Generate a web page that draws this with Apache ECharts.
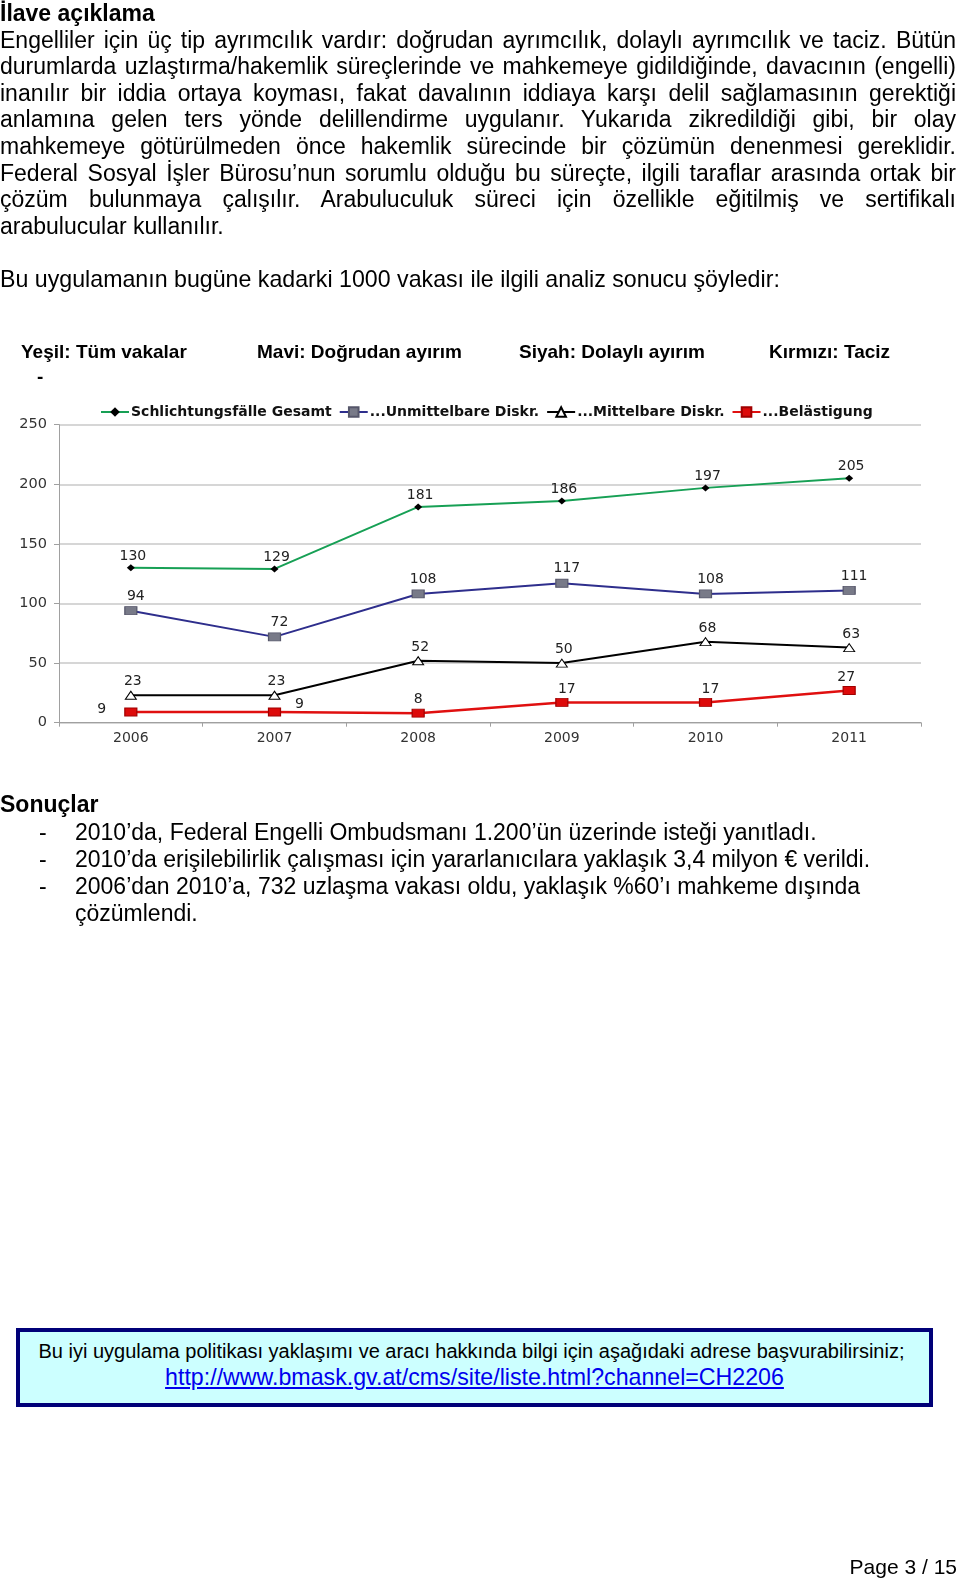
<!DOCTYPE html>
<html><head><meta charset="utf-8">
<script src="https://cdn.jsdelivr.net/npm/echarts@6/dist/echarts.min.js"></script>
<style>
html,body{margin:0;padding:0;background:#fff;}
body{width:960px;height:1580px;position:relative;overflow:hidden;font-family:"Liberation Sans",Arial,sans-serif;color:#000;}
#chart{position:absolute;left:0;top:0;width:960px;height:1580px;}
.t{position:absolute;white-space:nowrap;font-size:23px;line-height:26.6px;}
.j{position:absolute;left:0;width:956px;font-size:23px;line-height:26.6px;text-align:justify;text-align-last:justify;white-space:nowrap;}
.b{font-weight:bold;}
.h{position:absolute;font-size:19px;font-weight:bold;line-height:24px;white-space:nowrap;}
.box{position:absolute;left:16px;top:1328px;width:909px;height:71px;border:4px solid #000078;background:#ccffff;text-align:center;}
</style></head>
<body>
<div id="chart"></div>
<div class="t b" style="left:0;top:0">İlave açıklama</div>
<div class="j" style="top:26.6px">Engelliler için üç tip ayrımcılık vardır: doğrudan ayrımcılık, dolaylı ayrımcılık ve taciz. Bütün</div>
<div class="j" style="top:53.2px">durumlarda uzlaştırma/hakemlik süreçlerinde ve mahkemeye gidildiğinde, davacının (engelli)</div>
<div class="j" style="top:79.8px">inanılır bir iddia ortaya koyması, fakat davalının iddiaya karşı delil sağlamasının gerektiği</div>
<div class="j" style="top:106.4px">anlamına gelen ters yönde delillendirme uygulanır. Yukarıda zikredildiği gibi, bir olay</div>
<div class="j" style="top:133px">mahkemeye götürülmeden önce hakemlik sürecinde bir çözümün denenmesi gereklidir.</div>
<div class="j" style="top:159.6px">Federal Sosyal İşler Bürosu’nun sorumlu olduğu bu süreçte, ilgili taraflar arasında ortak bir</div>
<div class="j" style="top:186.2px">çözüm bulunmaya çalışılır. Arabuluculuk süreci için özellikle eğitilmiş ve sertifikalı</div>
<div class="t" style="left:0;top:212.8px">arabulucular kullanılır.</div>
<div class="t" style="left:0;top:266px;font-size:23.2px">Bu uygulamanın bugüne kadarki 1000 vakası ile ilgili analiz sonucu şöyledir:</div>

<div class="h" style="left:21px;top:339.5px">Yeşil: Tüm vakalar</div>
<div class="h" style="left:257px;top:339.5px">Mavi: Doğrudan ayırım</div>
<div class="h" style="left:519px;top:339.5px">Siyah: Dolaylı ayırım</div>
<div class="h" style="left:769px;top:339.5px">Kırmızı: Taciz</div>
<div class="h" style="left:37px;top:365px">-</div>

<div class="t b" style="left:0;top:791.4px;line-height:27.2px">Sonuçlar</div>
<div class="t" style="left:39px;top:818.6px;line-height:27.2px">-</div>
<div class="t" style="left:75px;top:818.6px;line-height:27.2px">2010’da, Federal Engelli Ombudsmanı 1.200’ün üzerinde isteği yanıtladı.</div>
<div class="t" style="left:39px;top:845.8px;line-height:27.2px">-</div>
<div class="t" style="left:75px;top:845.8px;line-height:27.2px">2010’da erişilebilirlik çalışması için yararlanıcılara yaklaşık 3,4 milyon € verildi.</div>
<div class="t" style="left:39px;top:873px;line-height:27.2px">-</div>
<div class="t" style="left:75px;top:873px;line-height:27.2px">2006’dan 2010’a, 732 uzlaşma vakası oldu, yaklaşık %60’ı mahkeme dışında</div>
<div class="t" style="left:75px;top:900.2px;line-height:27.2px">çözümlendi.</div>

<div class="box">
<div style="font-size:20px;line-height:26px;margin-top:6px;margin-right:6px;">Bu iyi uygulama politikası yaklaşımı ve aracı hakkında bilgi için aşağıdaki adrese başvurabilirsiniz;</div>
<div style="font-size:23.2px;line-height:26px;color:#0000ee;text-decoration:underline;">http://www.bmask.gv.at/cms/site/liste.html?channel=CH2206</div>
</div>

<div class="t" style="right:3px;top:1554px;font-size:21px;">Page 3 / 15</div>

<script>
var years = ['2006', '2007', '2008', '2009', '2010', '2011'];
var seriesNames = ['Schlichtungsfälle Gesamt', '...Unmittelbare Diskr.', '...Mittelbare Diskr.', '...Belästigung'];
var gesamt = [130, 129, 181, 186, 197, 205];
var unmittelbar = [94, 72, 108, 117, 108, 111];
var mittelbar = [23, 23, 52, 50, 68, 63];
var belaestigung = [9, 9, 8, 17, 17, 27];
var yTicks = [0, 50, 100, 150, 200, 250];

var chart = echarts.init(document.getElementById('chart'), null, {renderer: 'canvas'});
var lblFont = {fontFamily: 'DejaVu Sans', fontSize: 14, color: '#222'};

function labelled(values, overrides) {
  return values.map(function (v, i) {
    return overrides && overrides[i] ? {value: v, label: overrides[i]} : v;
  });
}
var redLabels = {
  0: {position: 'left', distance: 18, offset: [0, -3]},
  1: {position: 'right', distance: 14, offset: [0, -8]},
  3: {offset: [5, 0]},
  4: {offset: [5, 0]},
  5: {offset: [-3, 0]}
};

chart.setOption({
  animation: false,
  legend: {
    left: 100, top: 405, padding: 0, itemGap: 7, itemWidth: 28, itemHeight: 12,
    textStyle: {fontFamily: 'DejaVu Sans', fontSize: 14, fontWeight: 'bold', color: '#111', padding: [0,0,0,-3]},
    data: seriesNames
  },
  grid: {left: 59, right: 39, top: 424.7, bottom: 857.3, containLabel: false},
  xAxis: {
    type: 'category', data: years, boundaryGap: true,
    axisLine: {lineStyle: {color: '#a0a0a0', width: 1}},
    axisTick: {show: true, length: 4, lineStyle: {color: '#a0a0a0'}},
    axisLabel: {fontFamily: 'DejaVu Sans', fontSize: 14, color: '#333', margin: 9}
  },
  yAxis: {
    type: 'value', min: yTicks[0], max: yTicks[yTicks.length - 1], interval: yTicks[1] - yTicks[0],
    axisLine: {show: true, lineStyle: {color: '#a0a0a0', width: 1}},
    axisTick: {show: true, length: 5, lineStyle: {color: '#a0a0a0'}},
    axisLabel: {fontFamily: 'DejaVu Sans', fontSize: 14.5, color: '#333', margin: 12},
    splitLine: {lineStyle: {color: '#c8c8c8', width: 1.5}}
  },
  series: [
    {name: seriesNames[0], type: 'line', data: gesamt, symbol: 'diamond', symbolSize: [8, 7],
      lineStyle: {color: '#17a055', width: 2}, itemStyle: {color: '#000', borderWidth: 0},
      label: Object.assign({show: true, position: 'top', distance: 1, offset: [2, 0]}, lblFont)},
    {name: seriesNames[1], type: 'line', data: unmittelbar, symbol: 'rect', symbolSize: [12, 8],
      lineStyle: {color: '#2e2e8c', width: 2}, itemStyle: {color: '#787a88', borderColor: '#55566a', borderWidth: 1},
      label: Object.assign({show: true, position: 'top', distance: 3, offset: [5, 0]}, lblFont)},
    {name: seriesNames[2], type: 'line', data: mittelbar, symbol: 'triangle', symbolSize: [11, 8],
      lineStyle: {color: '#000', width: 2}, itemStyle: {color: '#fff', borderColor: '#000', borderWidth: 1},
      label: Object.assign({show: true, position: 'top', distance: 2, offset: [2, 0]}, lblFont)},
    {name: seriesNames[3], type: 'line', data: labelled(belaestigung, redLabels), symbol: 'rect', symbolSize: [12, 8],
      lineStyle: {color: '#e01010', width: 2.5}, itemStyle: {color: '#dd0a0a', borderColor: '#a00000', borderWidth: 1},
      label: Object.assign({show: true, position: 'top', distance: 2}, lblFont)}
  ]
});
</script>
</body></html>
